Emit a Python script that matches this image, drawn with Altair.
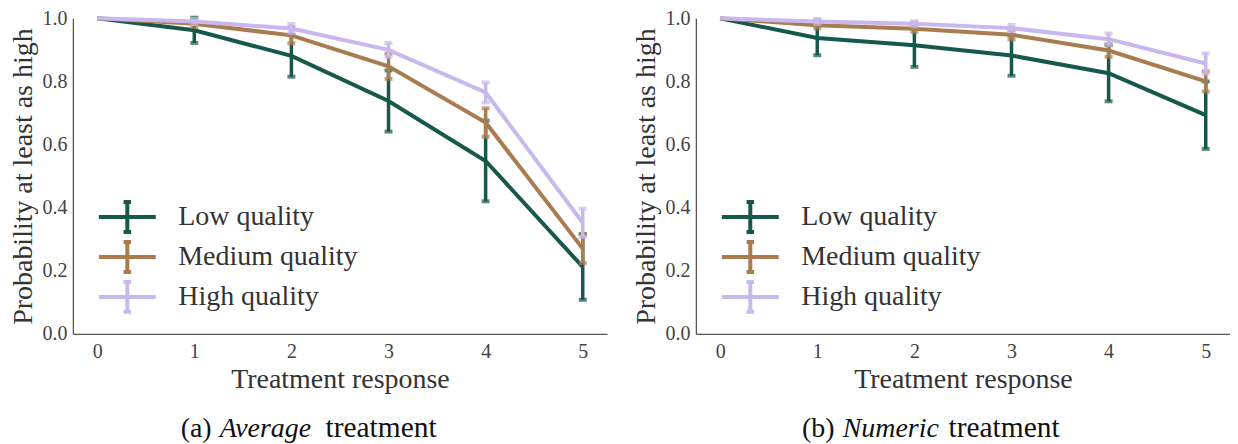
import altair as alt
import pandas as pd

# ---------------- data ----------------
x_vals = [0, 1, 2, 3, 4, 5]
series = ["Low quality", "Medium quality", "High quality"]
colors = ["#16584C", "#A87C4E", "#C8B8EE"]

# (a) Average treatment
avg_low = [1.0, 0.962, 0.881, 0.738, 0.548, 0.212]
avg_low_err = [0.0, 0.040, 0.066, 0.097, 0.128, 0.104]
avg_med = [1.0, 0.983, 0.946, 0.848, 0.670, 0.270]
avg_med_err = [0.0, 0.010, 0.025, 0.040, 0.045, 0.046]
avg_high = [1.0, 0.990, 0.968, 0.900, 0.765, 0.352]
avg_high_err = [0.0, 0.008, 0.014, 0.022, 0.032, 0.045]

# (b) Numeric treatment
num_low = [1.0, 0.938, 0.915, 0.882, 0.826, 0.693]
num_low_err = [0.0, 0.055, 0.069, 0.064, 0.089, 0.107]
num_med = [1.0, 0.978, 0.967, 0.948, 0.898, 0.800]
num_med_err = [0.0, 0.010, 0.010, 0.015, 0.020, 0.032]
num_high = [1.0, 0.990, 0.983, 0.969, 0.934, 0.857]
num_high_err = [0.0, 0.008, 0.008, 0.010, 0.018, 0.032]

y_ticks = [0.0, 0.2, 0.4, 0.6, 0.8, 1.0]

FONT = "Liberation Serif"
TXT = "#333333"

# legend glyph: horizontal line with a capped vertical error bar
LEGEND_PATH = ("M-1.9,0L1.9,0M0,-1L0,1"
               "M-0.25,-1L0.25,-1M-0.25,1L0.25,1")


def make_df(vals, errs):
    rows = []
    for s, v, e in zip(series, vals, errs):
        for x, y, err in zip(x_vals, v, e):
            rows.append({"series": s, "x": x, "y": y, "err": err,
                         "lo": y - err, "hi": y + err})
    return pd.DataFrame(rows)


def X(field="x"):
    return alt.X(f"{field}:Q", title="Treatment response",
                 scale=alt.Scale(domain=[-0.25, 5.25], nice=False, zero=False),
                 axis=alt.Axis(values=x_vals, format="d"))


def Y(field):
    return alt.Y(f"{field}:Q", title="Probability at least as high",
                 scale=alt.Scale(domain=[0, 1], nice=False),
                 axis=alt.Axis(values=y_ticks, format=".1f"))


def color_enc():
    return alt.Color(
        "series:N",
        scale=alt.Scale(domain=series, range=colors),
        legend=alt.Legend(
            title=None, orient="none", legendX=26, legendY=182,
            symbolType=LEGEND_PATH, symbolSize=900, symbolStrokeWidth=4,
            symbolOffset=11.5,
            symbolOpacity=1, symbolFillColor="transparent",
            labelFont=FONT, labelFontSize=28, labelColor=TXT, labelLimit=400,
            labelOffset=34, rowPadding=-7.5, padding=0,
        ),
    )


def panel(df, tag, italic, rest):
    layers = []
    for s in series:
        b = alt.Chart(df).transform_filter(alt.datum.series == s)
        layers.append(b.mark_line(strokeWidth=4).encode(
            x=X(), y=Y("y"), color=color_enc()))
        eb = b.transform_filter("datum.err > 0")
        layers.append(eb.mark_rule(strokeWidth=3.5).encode(
            x=X(), y=Y("lo"), y2="hi:Q", color=color_enc()))
        for f in ["lo", "hi"]:
            layers.append(eb.mark_tick(orient="horizontal", size=8, thickness=4).encode(
                x=X(), y=Y(f), color=color_enc()))
    one = alt.Data(values=[{}])
    cap_y = 419
    layers.append(alt.Chart(one).mark_text(
        text=tag, align="right", baseline="alphabetic", font=FONT,
        fontSize=28, color="#111111").encode(x=alt.value(139), y=alt.value(cap_y)))
    layers.append(alt.Chart(one).mark_text(
        text=italic, align="left", baseline="alphabetic", font=FONT, fontStyle="italic",
        fontSize=28, color="#111111").encode(x=alt.value(147), y=alt.value(cap_y)))
    layers.append(alt.Chart(one).mark_text(
        text=rest, align="left", baseline="alphabetic", font=FONT,
        fontSize=29.5, color="#111111").encode(x=alt.value(253), y=alt.value(cap_y)))
    return alt.layer(*layers).properties(width=535, height=316)


left = panel(make_df([avg_low, avg_med, avg_high],
                     [avg_low_err, avg_med_err, avg_high_err]),
             "(a)", "Average", "treatment")
right = panel(make_df([num_low, num_med, num_high],
                      [num_low_err, num_med_err, num_high_err]),
              "(b)", "Numeric", "treatment")

chart = (
    alt.hconcat(left, right, spacing=26)
    .resolve_scale(color="independent")
    .resolve_legend(color="independent")
    .properties(padding={"left": 2, "top": 0, "right": 0, "bottom": 0},
                background="white")
    .configure_view(stroke=None)
    .configure_axis(
        grid=False, ticks=False, domainColor="#555555", domainWidth=1.3,
        labelFont=FONT, labelFontSize=20, labelColor="#444444", labelPadding=6,
        titleFont=FONT, titleFontSize=28, titleColor=TXT, titleFontWeight="normal",
    )
    .configure_axisX(labelPadding=8, titlePadding=4)
    .configure_axisY(titlePadding=4)
)

chart.save("out.html", embed_options={"renderer": "svg", "actions": False})
